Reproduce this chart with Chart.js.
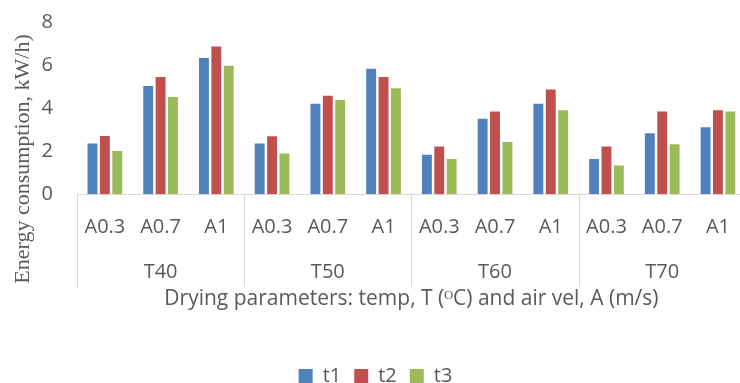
<!DOCTYPE html>
<html>
<head>
<meta charset="utf-8">
<script src="https://cdn.jsdelivr.net/npm/chart.js@4"></script>
<style>
  html, body { margin: 0; padding: 0; background: #fff; overflow: hidden; }
  #wrap { width: 740px; height: 383px; overflow: hidden; position: relative; }
  canvas { display: block; }
</style>
</head>
<body>
<div id="wrap">
  <canvas id="chart" width="751" height="396" style="width:751px;height:396px"></canvas>
</div>
<script>
const subLabels = ["A0.3", "A0.7", "A1", "A0.3", "A0.7", "A1", "A0.3", "A0.7", "A1", "A0.3", "A0.7", "A1"];
const groupLabels = ["T40", "T50", "T60", "T70"];
const t1 = [2.35, 5.02, 6.32, 2.35, 4.20, 5.82, 1.83, 3.50, 4.20, 1.63, 2.83, 3.11];
const t2 = [2.70, 5.44, 6.86, 2.69, 4.57, 5.44, 2.21, 3.84, 4.86, 2.21, 3.84, 3.89];
const t3 = [2.00, 4.51, 5.96, 1.88, 4.37, 4.92, 1.63, 2.42, 3.89, 1.33, 2.31, 3.84];
const yTitle = "Energy consumption, kW/h)";
const xTitle = "Drying parameters: temp, T (\u1D3CC) and air vel, A (m/s)";

const grey = "#595959";
const lineGrey = "#d9d9d9";
const font = "'Open Sans'";

// group separators under the axis + rotated y title
const decor = {
  id: "decor",
  afterDraw(chart) {
    const ctx = chart.ctx;
    const x = chart.scales.x;
    const x2 = chart.scales.x2;
    const half = (x.getPixelForValue(1) - x.getPixelForValue(0)) / 2;
    ctx.save();
    ctx.strokeStyle = lineGrey;
    ctx.lineWidth = 1;
    for (let i = 0; i <= subLabels.length; i += 3) {
      const px = Math.round(i < subLabels.length ? x.getPixelForValue(i) - half : x.getPixelForValue(i - 1) + half) + 0.5;
      ctx.beginPath();
      ctx.moveTo(px, x.top);
      ctx.lineTo(px, x2.top + 37);
      ctx.stroke();
    }
    ctx.translate(23, 159);
    ctx.rotate(-Math.PI / 2);
    ctx.fillStyle = grey;
    ctx.font = "22px 'Liberation Serif'";
    ctx.textAlign = "center";
    ctx.textBaseline = "middle";
    ctx.fillText(yTitle, 0, 0);
    ctx.restore();
  }
};

new Chart(document.getElementById("chart").getContext("2d"), {
  type: "bar",
  plugins: [decor],
  data: {
    labels: subLabels,
    datasets: [
      { label: "t1", data: t1, backgroundColor: "#4F81BD" },
      { label: "t2", data: t2, backgroundColor: "#C0504D" },
      { label: "t3", data: t3, backgroundColor: "#9BBB59" },
    ],
  },
  options: {
    responsive: false,
    maintainAspectRatio: false,
    animation: false,
    layout: { padding: { top: 22, left: 0, right: 0, bottom: 0 } },
    datasets: { bar: { categoryPercentage: 0.667, barPercentage: 0.8 } },
    plugins: {
      tooltip: { enabled: false },
      legend: {
        position: "bottom",
        labels: {
          boxWidth: 14,
          boxHeight: 14,
          padding: 13,
          color: grey,
          font: { family: font, size: 20 },
        },
      },
    },
    scales: {
      y: {
        min: 0,
        max: 8,
        // label gap comes from an invisible tick length so it does not pad the top
        ticks: { stepSize: 2, padding: 0, color: grey, font: { family: font, size: 20 } },
        grid: { display: false, drawTicks: true, tickLength: 24 },
        border: { display: false },
        afterFit(s) { s.width = 77; },
      },
      x: {
        weight: 0,
        grid: { display: false, drawTicks: false },
        border: { display: true, color: lineGrey, width: 1 },
        ticks: { padding: 21, color: grey, maxRotation: 0, autoSkip: false, font: { family: font, size: 20 } },
        afterFit(s) { s.height = 56; },
      },
      x2: {
        type: "category",
        position: "bottom",
        weight: 1,
        offset: true,
        labels: groupLabels,
        grid: { display: false, drawTicks: false },
        border: { display: false },
        ticks: { padding: 10, color: grey, maxRotation: 0, font: { family: font, size: 20 } },
        title: {
          display: true,
          text: xTitle,
          color: grey,
          padding: { top: 0, bottom: 41 },
          font: { family: font, size: 21 },
        },
        afterFit(s) { s.height = 103; },
      },
    },
  },
});
</script>
</body>
</html>
